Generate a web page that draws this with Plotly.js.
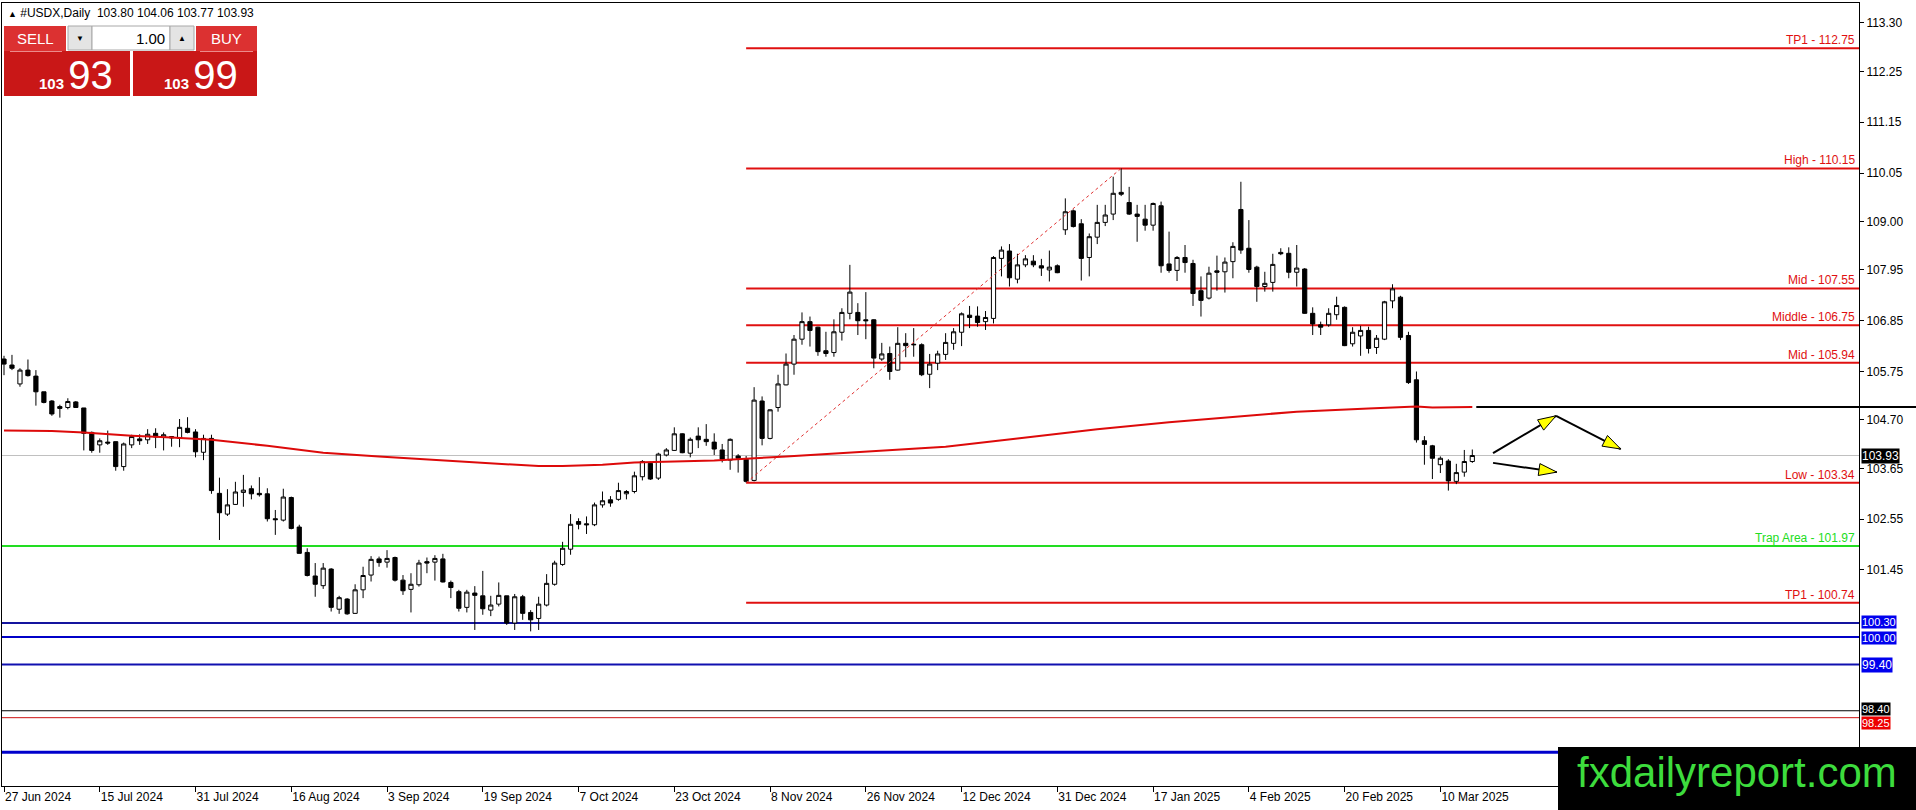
<!DOCTYPE html>
<html><head><meta charset="utf-8">
<script src="https://cdn.plot.ly/plotly-3.0.1.min.js"></script>
<style>html,body{margin:0;padding:0;background:#fff;overflow:hidden}#chart{width:1916px;height:810px}</style>
</head><body><div id="chart"></div><script>
// ---------------- DATA ----------------
const symbolTitle = '#USDX,Daily';
const lastOHLC = [103.80, 104.06, 103.77, 103.93];
const opens = [106.02,105.89,105.48,105.78,105.65,105.31,105.11,104.99,104.97,105.09,
104.96,104.43,104.16,104.22,104.23,103.69,104.16,104.29,104.27,104.41,
104.32,104.34,104.30,104.52,104.44,104.00,104.30,103.11,102.66,102.87,
103.13,103.21,103.11,103.10,102.56,102.53,103.02,102.38,101.83,101.32,
101.11,101.47,100.60,100.82,100.51,101.02,101.34,101.69,101.62,101.72,
101.23,101.03,101.13,101.63,101.62,101.69,101.18,100.98,100.64,100.95,
100.89,100.58,100.71,100.89,100.30,100.87,100.53,100.40,100.69,101.14,
101.57,101.90,102.50,102.45,102.43,102.86,102.97,102.98,103.10,103.15,
103.47,103.76,103.44,103.94,104.04,104.40,103.98,104.35,104.28,104.22,
104.05,103.83,103.92,103.85,103.39,105.11,104.30,104.97,105.46,105.91,
106.45,106.83,106.71,106.20,106.16,106.60,107.01,107.03,106.87,106.87,
106.02,106.14,105.78,106.36,106.34,106.33,105.69,105.93,106.12,106.36,
106.60,106.97,106.95,106.83,106.90,108.20,108.36,107.75,108.06,108.14,
108.04,107.95,108.04,108.82,109.23,108.95,108.22,108.66,108.98,109.16,
109.63,109.41,109.16,109.05,108.92,109.34,108.08,107.94,108.22,108.09,
107.50,107.34,107.93,107.91,108.13,109.26,108.42,108.01,107.59,107.68,
108.33,108.31,107.90,107.97,107.01,106.76,106.76,106.98,107.14,106.35,
106.52,106.64,106.27,106.45,107.28,107.36,106.53,105.57,104.25,104.14,
103.73,103.81,103.37,103.57,103.80];
const highs = [106.09,106.11,105.82,106.01,105.78,105.31,105.13,105.03,105.17,105.11,
104.96,104.45,104.30,104.47,104.23,104.21,104.38,104.39,104.50,104.52,
104.43,104.35,104.72,104.76,104.50,104.38,104.38,103.45,103.20,103.36,
103.51,103.28,103.46,103.22,102.75,103.21,103.04,102.43,101.92,101.60,
101.60,101.49,100.89,100.84,101.14,101.52,101.75,101.74,101.88,101.74,
101.34,101.38,101.67,101.72,101.77,101.80,101.22,101.02,101.02,101.10,
101.43,100.89,101.18,100.89,100.93,100.91,100.58,100.87,101.36,101.65,
102.06,102.66,102.57,102.61,102.91,103.15,103.05,103.34,103.18,103.58,
103.83,103.80,103.99,104.09,104.54,104.41,104.32,104.54,104.61,104.41,
104.18,104.30,103.96,103.92,105.41,105.21,104.93,105.68,106.14,106.54,
107.03,106.94,106.72,106.61,106.88,107.12,108.06,107.23,107.47,106.88,
106.37,106.29,106.71,106.58,106.69,106.36,106.13,106.20,106.58,106.69,
107.03,107.17,107.16,107.06,108.25,108.46,108.51,108.30,108.27,108.27,
108.19,108.37,108.07,109.50,109.26,109.05,108.74,109.36,109.36,109.97,
110.15,109.75,109.36,109.36,109.41,109.43,108.78,108.25,108.49,108.17,
107.81,108.02,108.26,108.22,108.55,109.86,109.03,108.04,107.91,108.30,
108.42,108.44,108.49,107.99,107.14,106.83,107.12,107.37,107.16,106.71,
106.74,106.72,106.54,107.28,107.64,107.39,106.61,105.75,104.35,104.16,
103.91,103.85,103.75,104.05,104.06];
const lows = [105.67,105.78,105.42,105.64,105.01,105.06,104.79,104.75,104.93,104.97,
104.04,103.99,103.99,104.16,103.60,103.60,104.09,104.16,104.18,104.09,
104.04,104.12,104.11,104.41,103.89,103.83,103.10,102.10,102.62,102.86,
102.82,102.98,103.04,102.50,102.21,102.50,102.33,101.81,101.31,100.87,
101.04,100.55,100.50,100.48,100.50,100.84,101.20,101.52,101.50,101.20,
100.91,100.53,101.09,101.38,101.22,101.18,100.84,100.55,100.53,100.15,
100.48,100.45,100.66,100.26,100.15,100.37,100.12,100.15,100.66,101.11,
101.54,101.78,102.33,102.23,102.40,102.80,102.82,102.95,102.98,103.11,
103.39,103.40,103.40,103.91,104.03,103.98,103.89,104.09,104.14,103.94,
103.78,103.62,103.56,103.34,103.37,104.15,104.28,104.88,105.45,105.68,
106.33,106.29,106.09,106.07,106.07,106.42,106.88,106.54,106.45,105.82,
105.98,105.57,105.77,106.06,106.07,105.65,105.39,105.78,106.00,106.22,
106.30,106.69,106.72,106.65,106.79,107.81,107.59,107.66,108.01,108.01,
107.82,107.70,107.88,108.71,108.87,107.72,107.81,108.51,108.90,109.03,
109.55,109.14,108.56,108.80,108.80,107.89,107.89,107.71,107.89,107.17,
106.94,107.31,107.50,107.46,107.77,108.30,107.89,107.26,107.48,107.48,
108.27,107.77,107.59,107.00,106.54,106.54,106.72,106.87,106.30,106.29,
106.09,106.14,106.13,106.43,107.12,106.43,105.48,104.21,103.73,103.42,
103.55,103.17,103.31,103.47,103.77];
const closes = [105.91,105.82,105.78,105.66,105.31,105.08,104.83,104.95,105.10,104.97,
104.41,104.04,104.25,104.20,103.69,104.18,104.34,104.25,104.39,104.33,
104.38,104.31,104.54,104.43,104.01,104.30,103.17,102.69,102.86,103.14,
103.18,103.10,103.08,102.56,102.54,103.03,102.35,101.81,101.33,101.14,
101.49,100.64,100.85,100.50,101.02,101.33,101.68,101.61,101.70,101.23,
101.00,101.14,101.60,101.60,101.70,101.19,101.07,100.62,100.97,100.90,
100.61,100.69,100.90,100.30,100.87,100.51,100.37,100.71,101.16,101.60,
101.92,102.44,102.44,102.43,102.86,102.95,102.90,103.17,103.15,103.49,
103.80,103.42,103.96,104.05,104.40,103.99,104.28,104.27,104.23,104.07,
103.85,104.28,103.87,103.37,105.13,104.30,104.92,105.48,105.91,106.45,
106.83,106.64,106.18,106.14,106.61,107.03,107.47,106.85,106.85,106.04,
106.13,105.75,106.36,106.31,106.33,105.68,105.91,106.13,106.38,106.61,
107.00,106.92,106.81,106.92,108.22,108.38,107.78,108.06,108.19,108.06,
107.99,108.01,107.89,109.21,108.89,108.20,108.67,108.98,109.14,109.61,
109.59,109.16,109.11,108.92,109.39,108.04,107.94,108.22,108.11,107.44,
107.29,107.88,107.90,108.12,108.46,108.38,107.96,107.59,107.66,108.07,
108.30,107.90,107.99,107.01,106.78,106.71,107.01,107.18,106.31,106.60,
106.64,106.25,106.47,107.26,107.54,106.49,105.51,104.27,104.17,103.87,
103.87,103.38,103.56,103.80,103.93];
// moving average (read at these bars)
const maBars = [0,6,10,16,21,26,33,40,47,55,62,67,70,75,79,89,98,108,118,127,137,146,154,162,171,177,179,184];
const maValues = [104.47,104.46,104.43,104.36,104.32,104.27,104.14,103.99,103.91,103.83,103.75,103.70,103.70,103.73,103.78,103.82,103.91,104.02,104.12,104.30,104.50,104.65,104.77,104.88,104.95,104.99,104.97,104.98];
// x-axis date labels
const dateTickBars = [0,12,24,36,48,60,72,84,96,108,120,132,144,156,168,180];
const dateTickLabels = ['27 Jun 2024','15 Jul 2024','31 Jul 2024','16 Aug 2024','3 Sep 2024','19 Sep 2024','7 Oct 2024','23 Oct 2024','8 Nov 2024','26 Nov 2024','12 Dec 2024','31 Dec 2024','17 Jan 2025','4 Feb 2025','20 Feb 2025','10 Mar 2025'];
// price axis labels
const priceTicks = [113.30,112.25,111.15,110.05,109.00,107.95,106.85,105.75,104.70,103.65,102.55,101.45];
// analysis levels
const levelNames = ['TP1','High','Mid','Middle','Mid','Low','Trap Area','TP1'];
const levelValues = [112.75,110.15,107.55,106.75,105.94,103.34,101.97,100.74];
const swingLowBar = 93, swingHighBar = 140;
const supportValues = [100.30,100.00,99.40,97.50];
const blackLevel = 98.40, redLevel = 98.25, maEndLevel = 104.98;
const bidPrice = 103.93;
const sellPrice = ['103','93'], buyPrice = ['103','99'], lotSize = '1.00';
// projected path arrows [fromBar, fromPrice, toBar, toPrice]
const arrows = [[186.6,103.98,194.5,104.79],[194.5,104.79,202.6,104.07],[186.6,103.77,194.6,103.57]];

// ---------------- GEOMETRY ----------------
const L=2,R=1859,T=3,B=786;
const xRange=[-0.2506,232.46], yRange=[96.770,113.733];
const pX = X => (X-L)/(R-L);
const pY = Y => 1-(Y-T)/(B-T);
const pixX = i => L+(i-xRange[0])/(xRange[1]-xRange[0])*(R-L);
const pixY = v => T+(yRange[1]-v)/(yRange[1]-yRange[0])*(B-T);
const datX = X => xRange[0]+(X-L)/(R-L)*(xRange[1]-xRange[0]);
const datY = Y => yRange[1]-(Y-T)/(B-T)*(yRange[1]-yRange[0]);

const FONT = 'Liberation Sans, Arial, sans-serif';
const idx = opens.map((_, i) => i);
const shapes = [], ann = [];

// horizontal lines
function hline(v, color, width, x0) {
  shapes.push({type:'line', xref: x0===undefined?'paper':'x', yref:'y', x0: x0===undefined?0:x0, x1: x0===undefined?1:xRange[1], y0:v, y1:v, line:{color:color, width:width}, layer:'below'});
}
hline(bidPrice, '#c0c0c0', 1);
hline(supportValues[0], '#14149e', 2);
hline(supportValues[1], '#0000c8', 2);
hline(supportValues[2], '#1010b0', 2);
hline(supportValues[3], '#0000cc', 3);
hline(blackLevel, '#000000', 1);
hline(redLevel, '#cc1010', 1);
levelNames.forEach((n, k) => {
  const v = levelValues[k];
  const green = n === 'Trap Area';
  const col = green ? '#22dd22' : '#e01010';
  hline(v, col, 2, green ? undefined : swingLowBar);
  ann.push({xref:'paper', yref:'y', x:pX(1857), y:v, xanchor:'right', yanchor:'bottom', yshift:-1,
    text: n + ' - ' + v.toFixed(2), showarrow:false, font:{family:FONT, size:12, color:col}});
});
// diagonal swing line
shapes.push({type:'line', xref:'x', yref:'y', x0:swingLowBar, y0:levelValues[5], x1:swingHighBar, y1:levelValues[1], line:{color:'#e03030', width:1, dash:'3px,3px'}});
// black line continuing MA to the right edge
shapes.push({type:'line', xref:'paper', yref:'y', x0:pX(pixX(184.5)), x1:pX(1916), y0:maEndLevel, y1:maEndLevel, line:{color:'#000', width:2}});

// arrows
arrows.forEach(a => {
  shapes.push({type:'line', xref:'x', yref:'y', x0:a[0], y0:a[1], x1:a[2], y1:a[3], line:{color:'#000', width:2}});
  const x0=pixX(a[0]), y0=pixY(a[1]), x1=pixX(a[2]), y1=pixY(a[3]);
  const len=Math.hypot(x1-x0,y1-y0), ux=(x1-x0)/len, uy=(y1-y0)/len;
  const bx=x1-ux*18, by=y1-uy*18, nx=-uy*6, ny=ux*6;
  const pts=[[x1,y1],[bx+nx,by+ny],[bx-nx,by-ny]];
  const path='M'+pts.map(p=>datX(p[0]).toFixed(3)+','+datY(p[1]).toFixed(4)).join(' L')+' Z';
  shapes.push({type:'path', xref:'x', yref:'y', path:path, fillcolor:'#ffff00', line:{color:'#000', width:1}});
});

// price boxes on the axis
function pbox(v, bg, fg, shift, size) {
  ann.push({xref:'paper', yref:'y', x:pX(1861), y:v, xanchor:'left', yanchor:'middle', yshift:shift||0, text:v.toFixed(2),
    showarrow:false, bgcolor:bg, borderpad:0, font:{family:FONT, size:size||12, color:fg}});
}
pbox(bidPrice, '#000000', '#ffffff');
pbox(supportValues[0], '#0000ee', '#ffffff', 1, 11);
pbox(supportValues[1], '#0000ee', '#ffffff', -1, 11);
pbox(supportValues[2], '#0000ee', '#ffffff');
pbox(redLevel, '#ee0000', '#ffffff', -5, 11);
pbox(blackLevel, '#000000', '#ffffff', 2, 11);

// header
ann.push({xref:'paper', yref:'paper', x:pX(6), y:pY(13), xanchor:'left', yanchor:'middle', showarrow:false,
  text:'<span style="font-size:9px">▲</span> ' + symbolTitle + '\u00a0\u00a0' + lastOHLC.map(v=>v.toFixed(2)).join(' '),
  font:{family:FONT, size:12, color:'#000'}});

// one-click trading panel
function rect(x0,y0,x1,y1,fill,line){ shapes.push({type:'rect', xref:'paper', yref:'paper', x0:pX(x0), x1:pX(x1), y0:pY(y1), y1:pY(y0), fillcolor:fill, line:{color:line||fill, width:line?1:0}, layer:'above'}); }
rect(4,26,66,51,'#dc3131');
rect(4,51,130,96,'#c91717');
rect(196,26,257,51,'#dc3131');
rect(133,51,257,96,'#c91717');
rect(68,26,92,50,'#e4e4e4','#a8a8a8');
rect(92,26,170,50,'#ffffff','#a8a8a8');
rect(170,26,194,50,'#e4e4e4','#a8a8a8');
shapes.push({type:'line', xref:'paper', yref:'paper', x0:pX(10), x1:pX(62), y0:pY(51.5), y1:pY(51.5), line:{color:'#ec8a8a', width:1}, layer:'above'});
shapes.push({type:'line', xref:'paper', yref:'paper', x0:pX(200), x1:pX(253), y0:pY(51.5), y1:pY(51.5), line:{color:'#ec8a8a', width:1}, layer:'above'});
function ptxt(x,y,t,size,color,anchor){ ann.push({xref:'paper', yref:'paper', x:pX(x), y:pY(y), xanchor:anchor||'center', yanchor:'middle', text:t, showarrow:false, font:{family:FONT, size:size, color:color}}); }
ptxt(35,38.5,'SELL',15,'#ffffff');
ptxt(226,38.5,'BUY',15,'#ffffff');
ptxt(80,38,'▼',8,'#000');
ptxt(182,38,'▲',8,'#000');
ptxt(167,38.5,lotSize,15,'#000','right');
ptxt(37,75,'<span style="font-size:15px;font-weight:bold">'+sellPrice[0]+' </span>'+sellPrice[1],40,'#ffffff','left');
ptxt(162,75,'<span style="font-size:15px;font-weight:bold">'+buyPrice[0]+' </span>'+buyPrice[1],40,'#ffffff','left');

// watermark
rect(1558,747,1916,810,'#000000');
ptxt(1737,772,'fxdailyreport.com',42,'#3ddc3d');

const traces = [
  {type:'scatter', mode:'lines', x:maBars, y:maValues, line:{color:'#dd0a0a', width:2}, hoverinfo:'skip', showlegend:false},
  {type:'candlestick', x:idx, open:opens, high:highs, low:lows, close:closes, whiskerwidth:0,
   increasing:{line:{color:'#000', width:1}, fillcolor:'#ffffff'},
   decreasing:{line:{color:'#000', width:1}, fillcolor:'#000000'},
   hoverinfo:'skip', showlegend:false}
];

const layout = {
  width:1916, height:810, margin:{l:L, r:1916-R, t:T, b:810-B, pad:0},
  paper_bgcolor:'#ffffff', plot_bgcolor:'#ffffff', showlegend:false, boxgap:0.25,
  font:{family:FONT, size:12, color:'#000'},
  xaxis:{range:xRange, type:'linear', showgrid:false, zeroline:false, showline:true, linecolor:'#000', linewidth:1, mirror:true,
    ticks:'outside', ticklen:5, tickcolor:'#000', tickvals:dateTickBars, ticktext:dateTickLabels,
    ticklabelposition:'outside right', tickfont:{family:FONT, size:12, color:'#000'}, rangeslider:{visible:false}, fixedrange:true},
  yaxis:{range:yRange, side:'right', showgrid:false, zeroline:false, showline:true, linecolor:'#000', linewidth:1, mirror:true,
    ticks:'outside', ticklen:4, tickcolor:'#000', tickvals:priceTicks, ticktext:priceTicks.map(v=>v.toFixed(2)),
    tickfont:{family:FONT, size:12, color:'#000'}, fixedrange:true},
  shapes:shapes, annotations:ann
};
Plotly.newPlot('chart', traces, layout, {displayModeBar:false, staticPlot:true});
</script></body></html>
